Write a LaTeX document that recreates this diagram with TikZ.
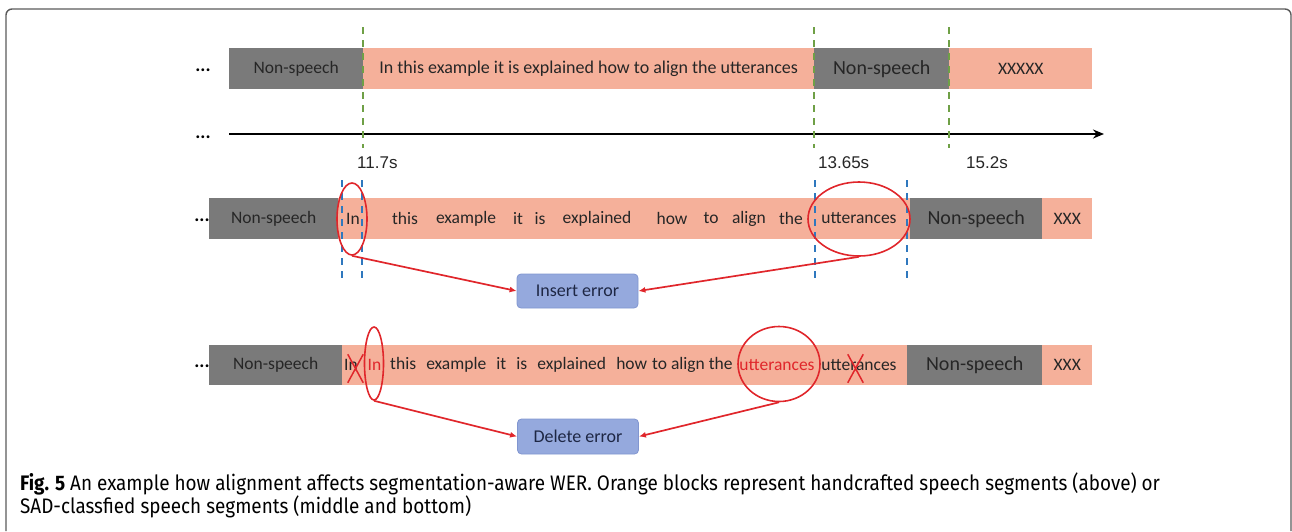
\documentclass[tikz,border=0pt]{standalone}
\usepackage{fontspec}
\setmainfont{Carlito}
\newfontfamily\arialf{Liberation Sans}
\newfontfamily\capf[FakeStretch=0.9]{Fira Sans}
\usetikzlibrary{shapes.geometric,shapes.misc,arrows.meta}
\definecolor{segGray}{HTML}{7A7A7A}
\definecolor{segOrange}{HTML}{F5B09A}
\definecolor{txtDark}{HTML}{262626}
\definecolor{gDash}{HTML}{6FA046}
\definecolor{bDash}{HTML}{2F78BE}
\definecolor{errRed}{HTML}{E0262B}
\definecolor{boxFill}{HTML}{95A9DD}
\definecolor{boxLine}{HTML}{8196D0}
\definecolor{boxText}{HTML}{1E2744}
\definecolor{frameGray}{HTML}{5A5A5A}
\tikzset{
  seg/.style={inner sep=0pt, anchor=north west, text=txtDark, font=\fontsize{17.5}{20}\selectfont},
  grayseg/.style={seg, fill=segGray},
  orangeseg/.style={seg, fill=segOrange},
  bigtxt/.style={font=\fontsize{20}{22}\selectfont},
  toptxt/.style={font=\fontsize{18}{20}\selectfont},
  word/.style={inner sep=0pt, text=txtDark, font=\fontsize{17.5}{20}\selectfont},
  redword/.style={word, text=errRed},
  dots/.style={inner sep=0pt, font=\bfseries\fontsize{19}{20}\selectfont},
  gdash/.style={gDash, line width=1.3pt, dash pattern=on 7pt off 6pt},
  bdash/.style={bDash, line width=1.6pt, dash pattern=on 7pt off 6pt},
  axisline/.style={black, line width=2.2pt, -{Stealth[length=11pt,width=9pt]}},
  tlabel/.style={inner sep=0pt, anchor=west, text=black!85, font=\arialf\fontsize{17}{19}\selectfont},
  errell/.style={ellipse, draw=errRed, line width=1.6pt, inner sep=0pt},
  crossmark/.style={cross out, draw=errRed, line width=1.5pt, inner sep=0pt},
  errbox/.style={rounded corners=4pt, fill=boxFill, draw=boxLine, line width=0.8pt, text=boxText, inner sep=0pt, font=\fontsize{18}{20}\selectfont},
  errarrow/.style={errRed, line width=1.7pt, -{Latex[length=7pt,width=6pt]}},
  frameline/.style={frameGray, line width=1.4pt, rounded corners=6pt},
  captext/.style={inner sep=0pt, anchor=base west, font=\capf\fontsize{21}{24}\selectfont}
}
\begin{document}
\begin{tikzpicture}[x=1pt,y=-1pt]
\useasboundingbox (0,0) rectangle (1292,531);
\draw[frameline] (6,531) -- (6,9) -- (1291,9) -- (1291,531);

% ---------- row 1 ----------
\node[grayseg, minimum width=134pt, minimum height=41pt] (g1) at (229,48) {Non-speech};
\node[orangeseg, toptxt, minimum width=451pt, minimum height=41pt] (o1) at (363,48) {In this example it is explained how to align the utterances};
\node[grayseg, bigtxt, minimum width=135pt, minimum height=41pt] (g2) at (814,48) {Non-speech};
\node[orangeseg, minimum width=143pt, minimum height=41pt] (o2) at (949,48) {XXXXX};
\node[dots] (d1) at (203,70) {...};
\node[dots] (d2) at (203,137) {...};

\coordinate (ax0) at (229,134);
\coordinate (ax1) at (1104,134);
\draw[axisline] (ax0) -- (ax1);

\coordinate (ga1) at (363,27); \coordinate (gb1) at (363,148);
\coordinate (ga2) at (814,27); \coordinate (gb2) at (814,148);
\coordinate (ga3) at (949,27); \coordinate (gb3) at (949,148);
\draw[gdash] (ga1) -- (gb1);
\draw[gdash] (ga2) -- (gb2);
\draw[gdash] (ga3) -- (gb3);

\node[tlabel] (t1) at (357,163) {11.7s};
\node[tlabel] (t2) at (818,163) {13.65s};
\node[tlabel] (t3) at (966,163) {15.2s};

% ---------- row 2 ----------
\node[grayseg, minimum width=129pt, minimum height=41pt] (g3) at (209,198) {Non-speech};
\node[orangeseg, minimum width=572pt, minimum height=41pt] (o3) at (338,198) {};
\node[grayseg, bigtxt, minimum width=132pt, minimum height=41pt] (g4) at (910,198) {Non-speech};
\node[orangeseg, minimum width=50pt, minimum height=41pt] (o4) at (1042,198) {XXX};
\node[dots] (d3) at (202,220) {...};

\node[word] (w1) at (353,218.5) {In};
\node[word] (w2) at (405,218.5) {this};
\node[word] (w3) at (466,218.5) {example};
\node[word] (w4) at (518,218.5) {it};
\node[word] (w5) at (540,218.5) {is};
\node[word] (w6) at (597,218.5) {explained};
\node[word] (w7) at (672,218.5) {how};
\node[word] (w8) at (711,218.5) {to};
\node[word] (w9) at (749,218.5) {align};
\node[word] (w10) at (791,218.5) {the};
\node[word] (w11) at (859,218.5) {utterances};

\coordinate (ba1) at (342,180); \coordinate (bb1) at (342,281);
\coordinate (ba2) at (362,180); \coordinate (bb2) at (362,281);
\coordinate (ba3) at (815,180); \coordinate (bb3) at (815,281);
\coordinate (ba4) at (907,180); \coordinate (bb4) at (907,281);
\draw[bdash] (ba1) -- (bb1);
\draw[bdash] (ba2) -- (bb2);
\draw[bdash] (ba3) -- (bb3);
\draw[bdash] (ba4) -- (bb4);

\node[errell, minimum width=30pt, minimum height=72pt] (e1) at (352,219) {};
\node[errell, minimum width=102pt, minimum height=74pt] (e2) at (859,219) {};

\node[errbox, minimum width=121pt, minimum height=34pt] (ins) at (577.5,291) {Insert error};
\draw[errarrow] (e1.south) -- (ins.west);
\draw[errarrow] (e2.south) -- (ins.east);

% ---------- row 3 ----------
\node[grayseg, minimum width=133pt, minimum height=40pt] (g5) at (209,345) {Non-speech};
\node[orangeseg, minimum width=565pt, minimum height=40pt] (o5) at (342,345) {};
\node[grayseg, bigtxt, minimum width=135pt, minimum height=40pt] (g6) at (907,345) {Non-speech};
\node[orangeseg, minimum width=50pt, minimum height=40pt] (o6) at (1042,345) {XXX};
\node[dots] (d4) at (202,366) {...};

\node[word] (v1) at (351,365) {In};
\node[redword] (v2) at (374.5,365) {In};
\node[word, anchor=west] (v3) at (390,365) {\makebox[257pt][s]{this example it is explained how}};
\node[word, anchor=west] (v4) at (652,365) {to align the};
\node[redword] (v5) at (777,365) {utterances};
\node[word] (v6) at (859,365) {utterances};

\node[crossmark, minimum width=14pt, minimum height=27pt] (x1) at (355.5,368.5) {};
\node[crossmark, minimum width=14pt, minimum height=27pt] (x2) at (855.5,368.5) {};

\node[errell, minimum width=19pt, minimum height=73pt] (e3) at (374,363.5) {};
\node[errell, minimum width=82pt, minimum height=75pt] (e4) at (779,364) {};

\node[errbox, minimum width=121pt, minimum height=35pt] (del) at (578,436.5) {Delete error};
\draw[errarrow] (e3.south) -- (del.west);
\draw[errarrow] (e4.south) -- (del.east);

% ---------- caption ----------
\node[captext] (c1) at (20,490) {\textbf{Fig. 5} An example how alignment affects segmentation-aware WER. Orange blocks represent handcrafted speech segments (above) or};
\node[captext] (c2) at (20,513) {SAD-classfied speech segments (middle and bottom)};
\end{tikzpicture}
\end{document}
